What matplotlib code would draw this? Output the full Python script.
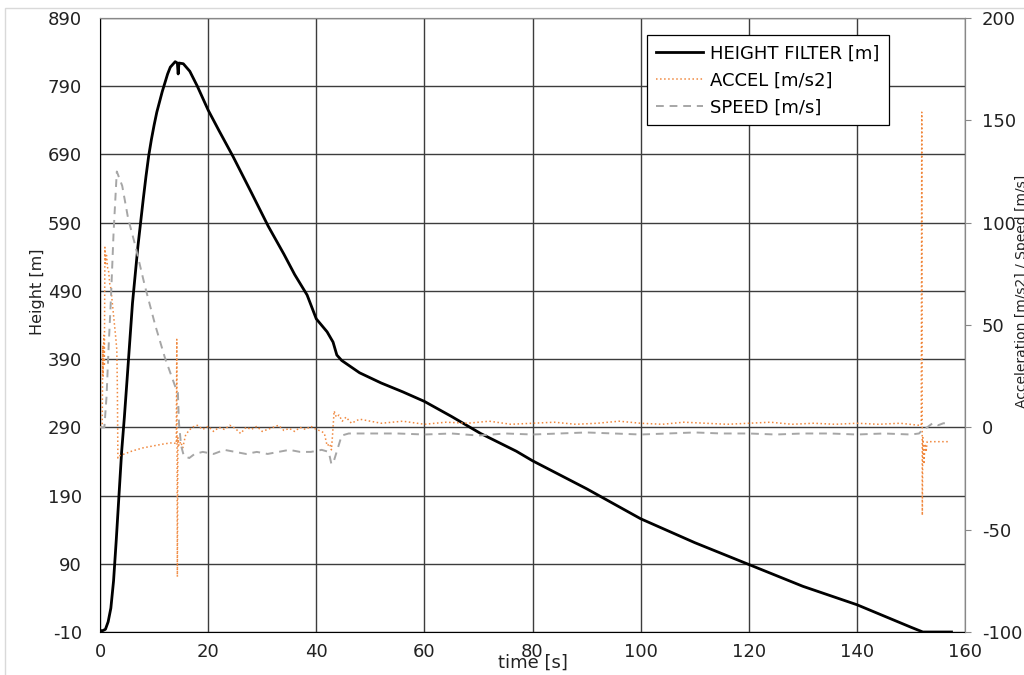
import matplotlib
matplotlib.use('Agg')
import matplotlib.pyplot as plt
from matplotlib.patches import Rectangle
import numpy as np

plt.rcParams['font.family'] = ['DejaVu Sans']
plt.rcParams['axes.unicode_minus'] = False

# height (left axis)
t_height = [0, 0.5, 1.0, 1.5, 2.0, 2.5, 3.0, 3.5, 4.0, 4.5, 5.0, 6.0, 7.0, 8.0,
            8.5, 9.0, 9.5, 10.0, 10.5, 11.0, 11.5, 12.0, 12.5, 13.0, 13.9,
            14.3, 14.45, 14.6, 15.4, 16.6,
            18.0, 20.0, 22.0, 24.6, 28.0, 31.1, 34.0, 36.0, 38.3, 40.0, 42.0,
            43.1, 43.8, 44.7, 48.0, 52.0, 56.0, 60.0, 65.0, 70.4, 77.0, 80.0,
            90.0, 100.0, 110.0, 120.0, 130.0, 140.0, 150.0, 152.2, 155.0, 157.5]
height = [-8, -8, -6, 5, 25, 65, 125, 190, 255, 305, 360, 472, 555, 625,
          658, 688, 712, 733, 752, 767, 782, 795, 808, 818, 826,
          824, 808, 824, 823, 812,
          790, 755, 725, 687, 634, 585, 544, 514, 484, 449, 430,
          415, 396, 388, 370, 355, 342, 328, 306, 281, 255, 241,
          200, 156, 121, 89, 57, 30, -3, -10, -10, -10]

# acceleration (right axis)
t_accel = [0, 0.4, 0.5, 0.55, 0.7, 0.8, 0.9, 1.0, 1.2, 1.4, 1.6, 1.8, 2.0,
           2.3, 2.6, 2.9, 3.1, 3.2, 3.3, 3.5, 4.5, 6, 8, 10, 12, 13.5, 14.1,
           14.2, 14.3, 14.4, 14.6, 14.9, 15.3, 15.8, 16.3, 17,
           18, 19, 20, 21, 22, 23, 24, 25, 26, 27, 28, 29, 30, 31, 32, 33,
           34, 35, 36, 37, 38, 39, 40, 41,
           41.5, 42, 42.5, 42.8, 43, 43.3, 43.7, 44.2, 44.8, 45.5, 46.5, 48,
           52, 56, 60, 64, 68, 72, 76, 80, 84, 88, 92, 96, 100, 104, 108,
           112, 116, 120, 124, 128, 132, 136, 140, 144, 148, 151.5, 151.9,
           152.0, 152.1, 152.2, 152.4, 152.6, 152.8, 153, 154, 155, 156, 157]
accel = [0, 1, 40, 25, 45, 30, 88, 80, 84, 78, 76, 70, 68,
         60, 52, 44, 38, 20, -15, -14, -13, -11.5, -10, -9, -8, -7.5, -8,
         43, -73, -5, -9, -7, -10, -4, -2, 0,
         1, -1, 0.5, -2, 0, -1, 1, -0.5, -3, 0, -1, 0.5, -2, -1, 0, 1,
         -1.5, -0.5, -2, 0, -1, 0.5, -1, -2,
         -3, -9, -8, -11, -4, 8, 5, 6, 3, 5, 2, 4,
         2, 3, 1.5, 2.5, 2, 3, 1.5, 2, 2.5, 1.5, 2, 3, 2, 1.5, 2.5,
         2, 1.5, 2, 2.5, 1.5, 2, 1.5, 2, 1.5, 2, 1, 1,
         154, -43, -5, -18, -8, -12, -7, -7, -7, -7, -7]

# speed (right axis)
t_speed = [0, 0.8, 1.2, 1.6, 2.0, 2.5, 3.1, 4.1, 5.2, 6.5, 8.3, 10.2, 12.0,
           13.9, 14.4, 14.6, 15.0, 15.5, 16.5, 17.5, 19, 21, 23, 25, 27, 29,
           31, 33, 35, 37, 39, 41, 42.3, 42.8, 43.3, 44.0, 44.7, 46, 48,
           55, 60, 65, 70, 75, 80, 85, 90, 95, 100, 105, 110, 115, 120, 125,
           130, 135, 140, 145, 150, 151.5, 152.2, 153, 154, 155, 156, 157]
speed = [0, 0, 15, 40, 62, 95, 125, 118, 102, 89, 69, 50, 34,
         20, 17, 2, -9, -14, -15, -13, -12, -13, -11, -12, -13, -12,
         -13, -12, -11, -12, -12, -11, -12, -18, -16, -10, -4, -3, -3,
         -3, -3.5, -3, -4, -3, -3.5, -3, -2.5, -3, -3.5, -3, -2.5, -3, -3, -3.5,
         -3, -3, -3.5, -3, -3.5, -3, -1, 0, 2, 1, 2, 2]

x_ticks = np.arange(0, 161, 20)
h_ticks = np.arange(-10, 891, 100)
r_ticks = np.arange(-100, 201, 50)

fig = plt.figure(figsize=(10.24, 6.75), dpi=100)
ax = fig.add_axes([0.0977, 0.0637, 0.8447, 0.9096])
ax2 = ax.twinx()

ln1, = ax.plot(t_height, height, color='black', lw=2, label='HEIGHT FILTER [m]', zorder=3)
ln2, = ax2.plot(t_accel, accel, color='#f0883e', lw=1.1, ls=':', label='ACCEL [m/s2]')
ln3, = ax2.plot(t_speed, speed, color='#a6a6a6', lw=1.4, ls=(0, (4, 3)), label='SPEED [m/s]')

ax.set_xlim(0, 160)
ax.set_ylim(-10, 890)
ax2.set_ylim(-100, 200)
ax.set_xticks(x_ticks)
ax.set_yticks(h_ticks)
ax2.set_yticks(r_ticks)

ax.grid(True, color='#3c3c3c', lw=1.0)
ax.tick_params(axis='both', length=0, labelsize=13, colors='#222222')
ax.tick_params(axis='y', pad=13)
ax.tick_params(axis='x', pad=8)
ax2.tick_params(axis='y', length=4, color='#888888', labelsize=13, labelcolor='#222222', pad=8)

for s in ['left', 'bottom']:
    ax.spines[s].set_color('black')
for s in ['top', 'right']:
    ax.spines[s].set_color('#888888')
    ax2.spines[s].set_color('#888888')
ax2.spines['left'].set_visible(False)
ax2.spines['bottom'].set_visible(False)

ax.set_xlabel('time [s]', fontsize=13, color='#222222')
ax.xaxis.set_label_coords(0.5, -0.035)
ax.set_ylabel('Height [m]', fontsize=11.5, color='#222222')
ax.yaxis.set_label_coords(-0.064, 0.554)
ax2.set_ylabel('Acceleration [m/s2] / Speed [m/s]', fontsize=10, color='#222222')
ax2.yaxis.set_label_coords(1.058, 0.554)

leg = ax2.legend(handles=[ln1, ln2, ln3], loc='upper right', bbox_to_anchor=(0.912, 0.972),
                 fontsize=13, fancybox=False, framealpha=1, edgecolor='black',
                 handlelength=2.6, borderpad=0.5, labelspacing=0.5, handletextpad=0.4,
                 borderaxespad=0)
leg.get_frame().set_linewidth(0.9)

fig.patches.append(Rectangle((0.005, -0.1), 1.2, 1.088, transform=fig.transFigure,
                             fill=False, edgecolor='#d9d9d9', lw=1))

fig.savefig('out.png', dpi=100)
